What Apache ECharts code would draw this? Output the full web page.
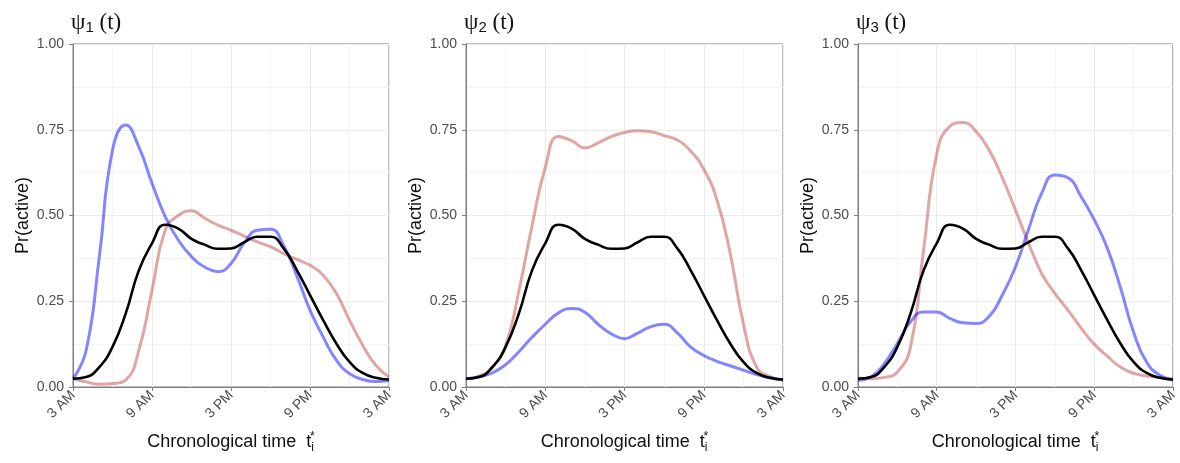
<!DOCTYPE html>
<html>
<head>
<meta charset="utf-8">
<script src="https://cdn.jsdelivr.net/npm/echarts@6/dist/echarts.min.js"></script>
<style>
  html, body { margin: 0; padding: 0; background: #fff; }
  #chart { width: 1180px; height: 463px; }
</style>
</head>
<body>
<div id="chart"></div>
<script>
// hours after 3 AM
const hours = [0, 1, 2, 3, 4, 5, 6, 7, 8, 9, 10, 11, 12, 13, 14, 15, 16, 17, 18, 19, 20, 21, 22, 23, 24];
const xTickLabels = ['3 AM', '9 AM', '3 PM', '9 PM', '3 AM'];
const panelTitles = ['1', '2', '3'];

// overall mean curve (same in every panel)
const meanCurve = [0.024, 0.029, 0.058, 0.117, 0.214, 0.34, 0.419, 0.473, 0.462, 0.432, 0.415, 0.403, 0.404, 0.422, 0.438, 0.438, 0.404, 0.341, 0.268, 0.195, 0.127, 0.073, 0.041, 0.027, 0.022];

const blue1 = [0.024, 0.107, 0.38, 0.69, 0.764, 0.70, 0.594, 0.497, 0.428, 0.38, 0.35, 0.336, 0.36, 0.42, 0.457, 0.46, 0.412, 0.324, 0.224, 0.146, 0.078, 0.039, 0.022, 0.016, 0.019];
const red1 = [0.024, 0.015, 0.008, 0.01, 0.02, 0.107, 0.282, 0.457, 0.50, 0.514, 0.492, 0.472, 0.457, 0.44, 0.423, 0.409, 0.389, 0.372, 0.355, 0.326, 0.273, 0.195, 0.122, 0.063, 0.029];

const blue2 = [0.024, 0.03, 0.041, 0.065, 0.103, 0.145, 0.183, 0.216, 0.229, 0.218, 0.183, 0.155, 0.141, 0.157, 0.176, 0.183, 0.158, 0.117, 0.092, 0.075, 0.062, 0.049, 0.036, 0.027, 0.02];
const red2 = [0.024, 0.032, 0.058, 0.12, 0.28, 0.47, 0.64, 0.73, 0.718, 0.697, 0.712, 0.73, 0.742, 0.747, 0.744, 0.733, 0.72, 0.688, 0.635, 0.545, 0.39, 0.185, 0.058, 0.03, 0.021];

const blue3 = [0.02, 0.03, 0.068, 0.127, 0.19, 0.219, 0.219, 0.20, 0.187, 0.185, 0.206, 0.268, 0.35, 0.46, 0.565, 0.618, 0.61, 0.555, 0.488, 0.405, 0.29, 0.16, 0.072, 0.034, 0.02];
const red3 = [0.026, 0.024, 0.028, 0.044, 0.117, 0.40, 0.68, 0.76, 0.771, 0.745, 0.69, 0.61, 0.516, 0.419, 0.331, 0.273, 0.224, 0.172, 0.125, 0.09, 0.058, 0.04, 0.032, 0.028, 0.024];

const blues = [blue1, blue2, blue3];
const reds = [red1, red2, red3];

const grids = [
    {left: 73, top: 44, width: 316, height: 343},
    {left: 466, top: 44, width: 317, height: 343},
    {left: 858, top: 44, width: 318, height: 343}
];

const frame = '#7f7f7f';
const gridMajor = '#ebebeb';
const gridMinor = '#f4f4f4';
const tickText = '#4d4d4d';

function pairs (ys) {
    return hours.map((h, i) => [h, ys[i]]);
}

let option = {
    backgroundColor: '#fff',
    animation: false,
    title: [],
    grid: [],
    xAxis: [],
    yAxis: [],
    series: []
};

grids.forEach((g, k) => {
    option.grid.push(Object.assign({
        show: true,
        borderColor: frame,
        borderWidth: 1,
        backgroundColor: 'transparent'
    }, g));

    option.title.push({
        text: '{a|ψ}{b|' + panelTitles[k] + '}{a| (t)}',
        left: g.left - 7,
        top: 6,
        textStyle: {
            fontWeight: 'normal',
            rich: {
                a: {fontFamily: 'Liberation Serif', fontSize: 23, fontWeight: 'normal', color: '#111'},
                b: {fontFamily: 'Liberation Sans', fontSize: 15, fontWeight: 'normal', color: '#111', verticalAlign: 'bottom', padding: [9, 0, 0, 0]}
            }
        }
    });

    option.xAxis.push({
        type: 'value',
        gridIndex: k,
        min: 0,
        max: 24,
        interval: 6,
        name: '{a|Chronological time  t}{i|i}{s|*}',
        nameLocation: 'middle',
        nameGap: 44,
        nameTextStyle: {
            rich: {
                a: {fontFamily: 'Liberation Sans', fontSize: 18, color: '#111'},
                i: {fontFamily: 'Liberation Sans', fontSize: 12, color: '#111', verticalAlign: 'bottom', padding: [11, 0, 0, 0]},
                s: {fontFamily: 'Liberation Sans', fontSize: 12, color: '#111', verticalAlign: 'top', padding: [0, 0, 11, -4]}
            }
        },
        axisLine: {show: true, lineStyle: {color: frame, width: 1}},
        axisTick: {show: true, length: 4, lineStyle: {color: frame}},
        axisLabel: {
            rotate: 45,
            margin: 6,
            color: tickText,
            fontFamily: 'Liberation Sans',
            fontSize: 14,
            formatter: function (v) {
                return xTickLabels[Math.round(v / 6)];
            }
        },
        splitLine: {show: true, lineStyle: {color: gridMajor, width: 1}},
        minorTick: {show: false, splitNumber: 2},
        minorSplitLine: {show: true, lineStyle: {color: gridMinor, width: 1}}
    });

    option.yAxis.push({
        type: 'value',
        gridIndex: k,
        min: 0,
        max: 1,
        interval: 0.25,
        name: 'Pr(active)',
        nameLocation: 'middle',
        nameGap: 41,
        nameTextStyle: {fontFamily: 'Liberation Sans', fontSize: 18, color: '#111'},
        axisLine: {show: true, lineStyle: {color: frame, width: 1}},
        axisTick: {show: true, length: 4, lineStyle: {color: frame}},
        axisLabel: {
            margin: 9,
            color: tickText,
            fontFamily: 'Liberation Sans',
            fontSize: 14,
            formatter: function (v) {
                return v.toFixed(2);
            }
        },
        splitLine: {show: true, lineStyle: {color: gridMajor, width: 1}},
        minorTick: {show: false, splitNumber: 2},
        minorSplitLine: {show: true, lineStyle: {color: gridMinor, width: 1}}
    });

    option.series.push({
        type: 'line',
        xAxisIndex: k,
        yAxisIndex: k,
        data: pairs(reds[k]),
        smooth: 0.5,
        showSymbol: false,
        lineStyle: {color: 'rgba(180, 40, 40, 0.42)', width: 3}
    });
    option.series.push({
        type: 'line',
        xAxisIndex: k,
        yAxisIndex: k,
        data: pairs(blues[k]),
        smooth: 0.5,
        showSymbol: false,
        lineStyle: {color: 'rgba(0, 0, 255, 0.48)', width: 3}
    });
    option.series.push({
        type: 'line',
        xAxisIndex: k,
        yAxisIndex: k,
        data: pairs(meanCurve),
        smooth: 0.5,
        showSymbol: false,
        lineStyle: {color: '#000', width: 2.6}
    });
});

const chart = echarts.init(document.getElementById('chart'));
chart.setOption(option);
</script>
</body>
</html>
